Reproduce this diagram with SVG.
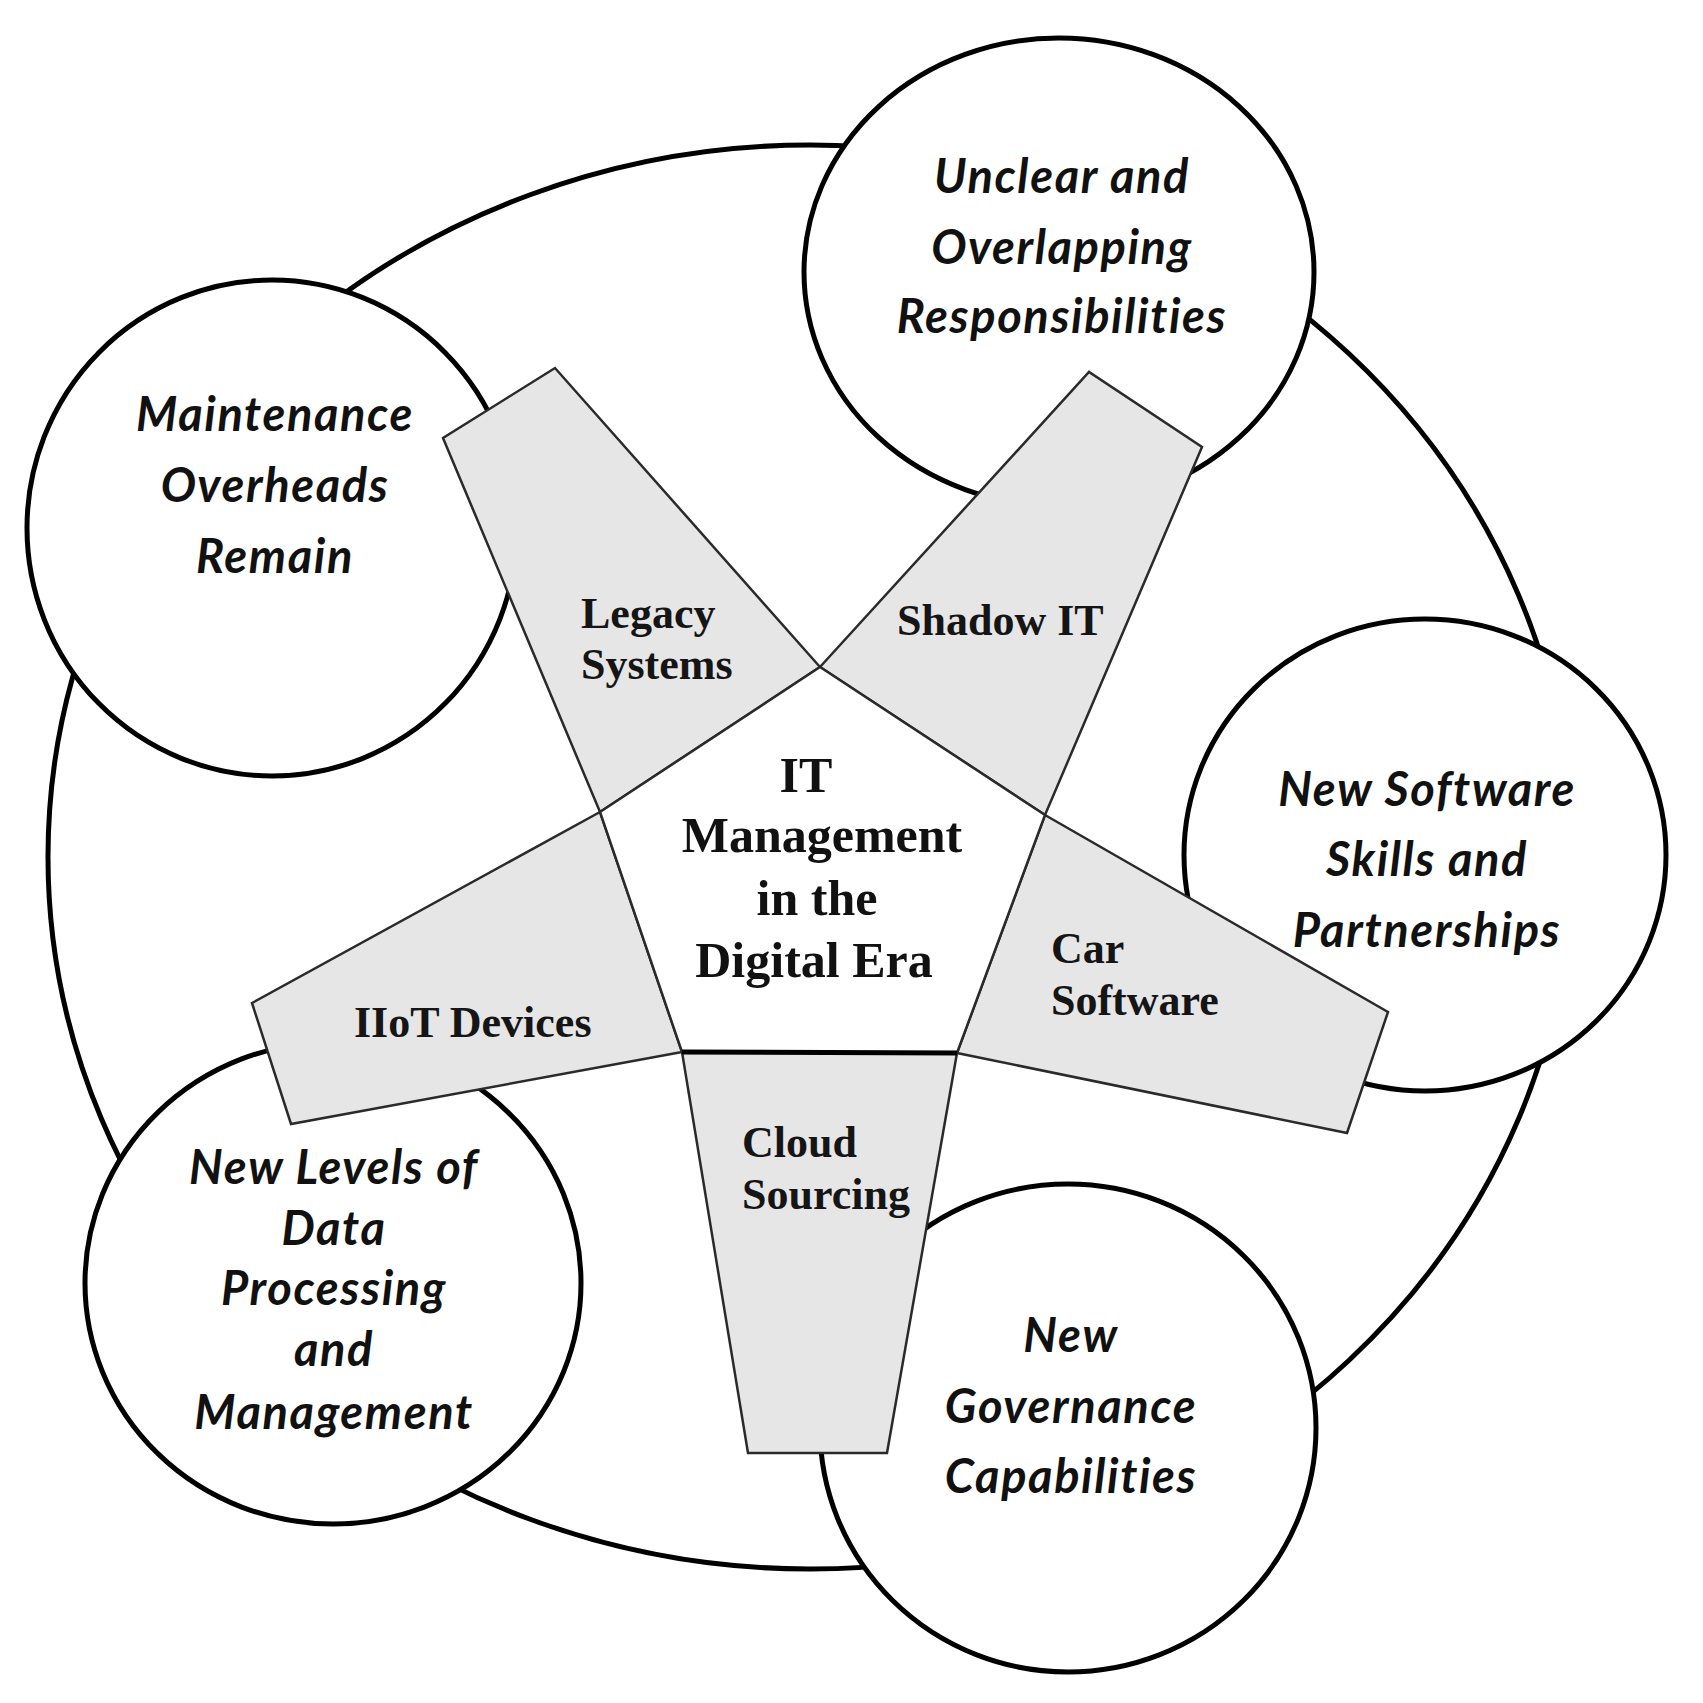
<svg xmlns="http://www.w3.org/2000/svg" width="1703" height="1703" viewBox="0 0 1703 1703">
<style>
.ring{fill:#fff;stroke:#000;stroke-width:5}
.circ{fill:#fff;stroke:#000;stroke-width:5}
.arm{fill:#e6e6e6;stroke:#2a2a2a;stroke-width:2.5;stroke-linejoin:miter}
.pent{fill:#fff;stroke:#2a2a2a;stroke-width:2.5}
.ct{font-family:Lato,"Liberation Sans",sans-serif;font-style:italic;font-weight:bold;font-size:47px;letter-spacing:1.6px;fill:#111;text-anchor:middle}
.at{font-family:"Liberation Serif","Times New Roman",serif;font-weight:bold;font-size:44px;fill:#151515}
.mt{font-family:"Liberation Serif","Times New Roman",serif;font-weight:bold;font-size:50px;fill:#111;text-anchor:middle}
</style>
<rect width="1703" height="1703" fill="#fff"/>
<g id="connectors">
<ellipse class="ring" cx="810" cy="857" rx="762" ry="712"/>
</g>
<g id="node-unclear">
<ellipse class="circ" cx="1059" cy="272" rx="255" ry="234"/>
<text class="ct" x="1062" y="193">Unclear and</text>
<text class="ct" x="1062" y="264">Overlapping</text>
<text class="ct" x="1062" y="333">Responsibilities</text>
</g>
<g id="node-maintenance">
<ellipse class="circ" cx="272" cy="528" rx="245" ry="248"/>
<text class="ct" x="275" y="431">Maintenance</text>
<text class="ct" x="275" y="502">Overheads</text>
<text class="ct" x="275" y="573">Remain</text>
</g>
<g id="node-software">
<ellipse class="circ" cx="1425" cy="855" rx="241" ry="236"/>
<text class="ct" x="1427" y="806">New Software</text>
<text class="ct" x="1427" y="876">Skills and</text>
<text class="ct" x="1427" y="947">Partnerships</text>
</g>
<g id="node-data">
<ellipse class="circ" cx="333" cy="1283" rx="248" ry="241"/>
<text class="ct" x="334" y="1184">New Levels of</text>
<text class="ct" x="334" y="1245">Data</text>
<text class="ct" x="334" y="1305">Processing</text>
<text class="ct" x="334" y="1366">and</text>
<text class="ct" x="334" y="1429">Management</text>
</g>
<g id="node-governance">
<ellipse class="circ" cx="1068" cy="1428" rx="248" ry="244"/>
<text class="ct" x="1071" y="1352">New</text>
<text class="ct" x="1071" y="1423">Governance</text>
<text class="ct" x="1071" y="1493">Capabilities</text>
</g>
<g id="node-legacy">
<polygon class="arm" points="820,667 555,368 443,438 600,812"/>
<text class="at" x="581" y="628">Legacy</text>
<text class="at" x="581" y="679">Systems</text>
</g>
<g id="node-shadow">
<polygon class="arm" points="820,667 1089,372 1202,447 1045,815"/>
<text class="at" x="897" y="635">Shadow IT</text>
</g>
<g id="node-car">
<polygon class="arm" points="1045,815 1388,1012 1347,1133 957,1053"/>
<text class="at" x="1051" y="963">Car</text>
<text class="at" x="1051" y="1015">Software</text>
</g>
<g id="node-cloud">
<polygon class="arm" points="957,1053 887,1453 748,1453 682,1052"/>
<text class="at" x="742" y="1157">Cloud</text>
<text class="at" x="742" y="1209">Sourcing</text>
</g>
<g id="node-iiot">
<polygon class="arm" points="682,1052 291,1124 252,1003 600,812"/>
<text class="at" x="354" y="1037">IIoT Devices</text>
</g>
<g id="node-center">
<polygon class="pent" points="820,667 1045,815 957,1053 682,1052 600,812"/>
<line x1="682" y1="1052" x2="957" y2="1053" stroke="#000" stroke-width="5"/>
<text class="mt" x="806" y="792">IT</text>
<text class="mt" x="822" y="852">Management</text>
<text class="mt" x="817" y="915">in the</text>
<text class="mt" x="814" y="977">Digital Era</text>
</g>
</svg>
